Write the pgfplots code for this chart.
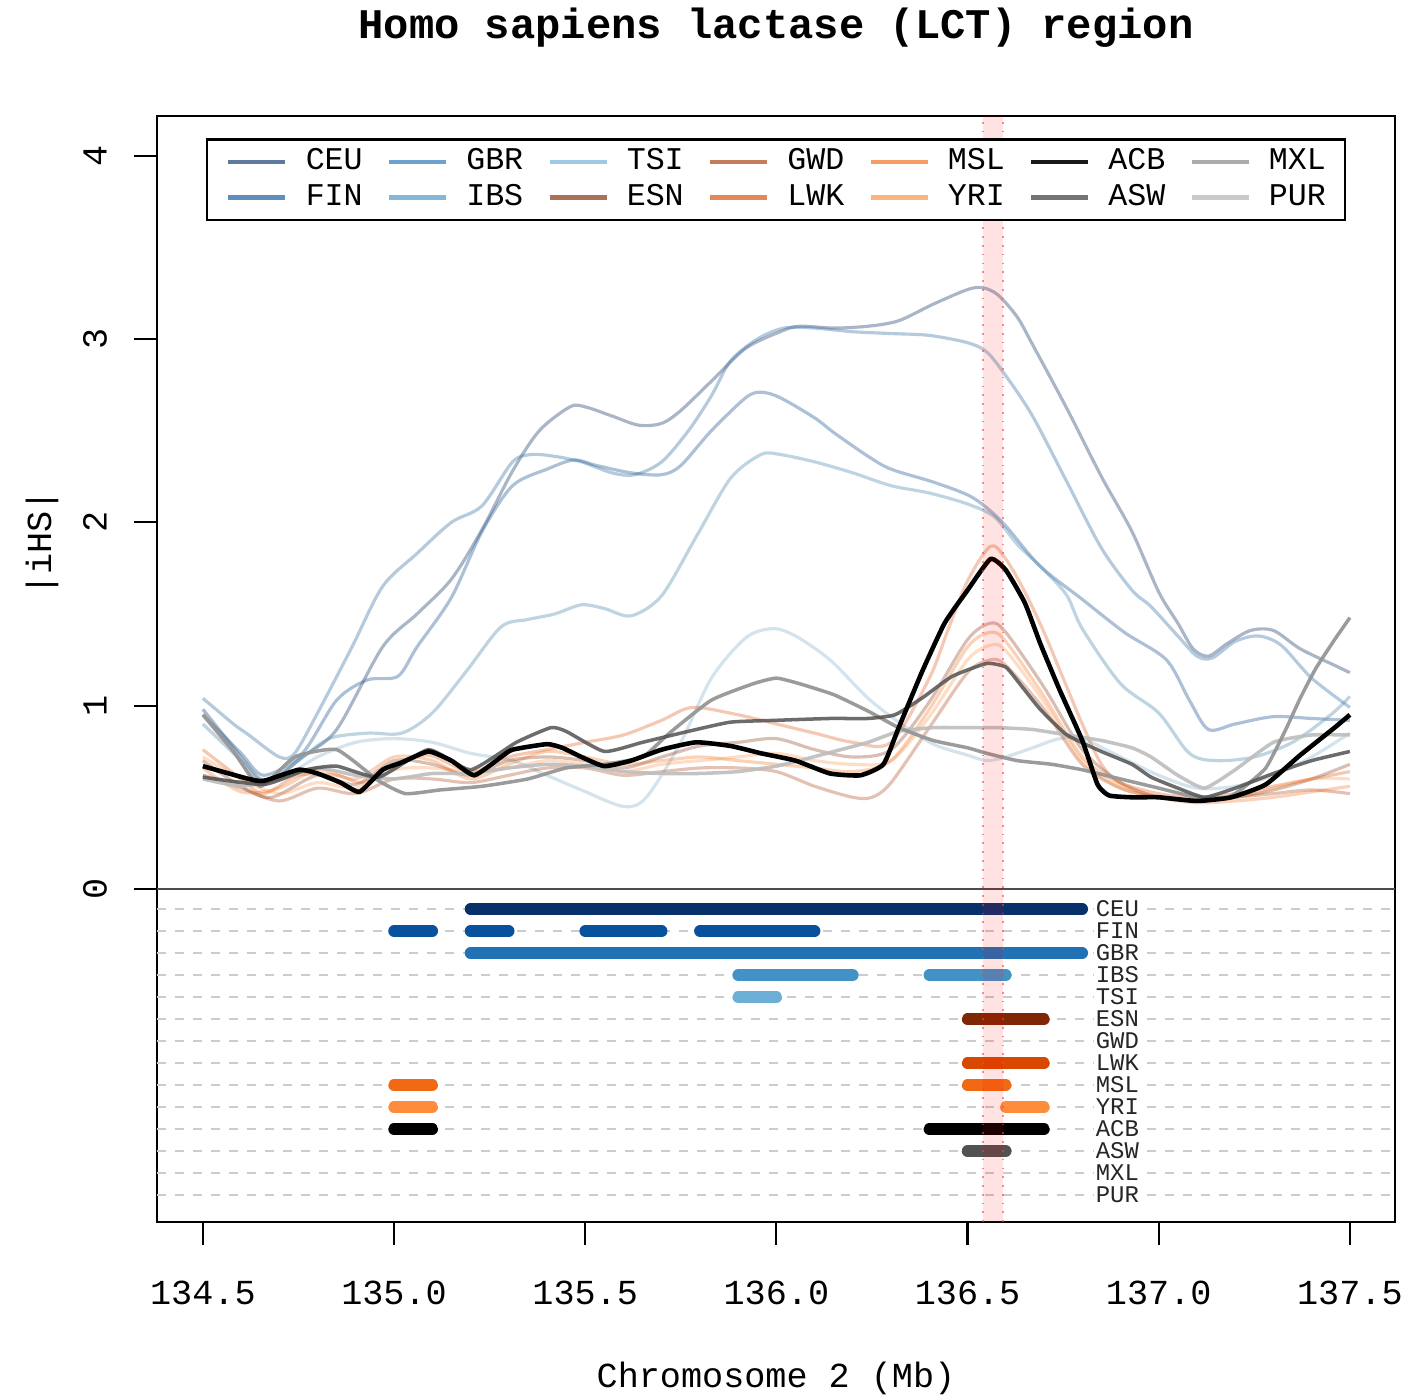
\documentclass[border=0pt]{standalone}
\usepackage{fontspec}
\setmainfont{Liberation Mono}
\usepackage{pgfplots}
\pgfplotsset{compat=1.18}
\begin{document}
\begin{tikzpicture}
\definecolor{CEUc}{HTML}{08306B}
\definecolor{FINc}{HTML}{08519C}
\definecolor{GBRc}{HTML}{2171B5}
\definecolor{IBSc}{HTML}{4292C6}
\definecolor{TSIc}{HTML}{6BAED6}
\definecolor{ESNc}{HTML}{7F2704}
\definecolor{GWDc}{HTML}{A63603}
\definecolor{LWKc}{HTML}{D94801}
\definecolor{MSLc}{HTML}{F16913}
\definecolor{YRIc}{HTML}{FD8D3C}
\definecolor{ACBc}{HTML}{000000}
\definecolor{ASWc}{HTML}{525252}
\definecolor{MXLc}{HTML}{969696}
\definecolor{PURc}{HTML}{BDBDBD}
\begin{axis}[
  name=ax, scale only axis, width=12.38cm, height=11.06cm,
  xmin=134.38, xmax=137.618, ymin=-1.817, ymax=4.217,
  axis line style={black, line width=0.6pt},
  tick style={black, line width=0.6pt},
  major tick length=2.3mm,
  tick align=outside, tick pos=left,
  xtick={134.5,135,135.5,136,136.5,137,137.5},
  xticklabels={134.5,135.0,135.5,136.0,136.5,137.0,137.5},
  ytick={0,1,2,3,4}, yticklabels={0,1,2,3,4},
  ticklabel style={font=\fontsize{10}{12}\selectfont},
  xticklabel style={anchor=center}, xticklabel shift=4.8mm,
  yticklabel style={rotate=90, anchor=center}, yticklabel shift=3.9mm,
  xlabel={Chromosome 2 (Mb)},
  xlabel style={at={(0.5,-0.141)}, anchor=center, font=\fontsize{10}{12}\selectfont},
  ylabel={|iHS|},
  ylabel style={at={(-0.0929,0.614)}, anchor=center, font=\fontsize{10}{12}\selectfont},
  unbounded coords=jump,
  legend columns=7,
  legend cell align=left,
  legend image code/.code={\draw[#1] (0mm,0mm) -- (5.7mm,0mm);},
  legend style={at={(0.5,0.980)}, anchor=north, draw=black, line width=0.7pt, fill=white,
    inner xsep=1.9mm, inner ysep=0.5mm, font=\fontsize{9}{10}\selectfont,
    nodes={inner xsep=0pt, inner ysep=0.45mm},
    /tikz/every odd column/.style={column sep=1.8mm},
    /tikz/every even column/.style={column sep=2.4mm}},
]
% legend (filled column-wise like the reference)
\addlegendimage{CEUc, opacity=0.65, line width=1.3pt}\addlegendentry{CEU}
\addlegendimage{GBRc, opacity=0.65, line width=1.3pt}\addlegendentry{GBR}
\addlegendimage{TSIc, opacity=0.65, line width=1.3pt}\addlegendentry{TSI}
\addlegendimage{GWDc, opacity=0.65, line width=1.3pt}\addlegendentry{GWD}
\addlegendimage{MSLc, opacity=0.65, line width=1.3pt}\addlegendentry{MSL}
\addlegendimage{ACBc, opacity=0.9, line width=1.3pt}\addlegendentry{ACB}
\addlegendimage{MXLc, opacity=0.8, line width=1.3pt}\addlegendentry{MXL}
\addlegendimage{FINc, opacity=0.65, line width=1.3pt}\addlegendentry{FIN}
\addlegendimage{IBSc, opacity=0.65, line width=1.3pt}\addlegendentry{IBS}
\addlegendimage{ESNc, opacity=0.65, line width=1.3pt}\addlegendentry{ESN}
\addlegendimage{LWKc, opacity=0.65, line width=1.3pt}\addlegendentry{LWK}
\addlegendimage{YRIc, opacity=0.65, line width=1.3pt}\addlegendentry{YRI}
\addlegendimage{ASWc, opacity=0.8, line width=1.3pt}\addlegendentry{ASW}
\addlegendimage{PURc, opacity=0.8, line width=1.3pt}\addlegendentry{PUR}

% --- lower panel: dashed guide rows
\draw[gray!40, line width=0.5pt, dash pattern=on 0.9mm off 0.9mm]
  (axis cs:134.38,-0.11) -- (axis cs:137.618,-0.11)
  (axis cs:134.38,-0.23) -- (axis cs:137.618,-0.23)
  (axis cs:134.38,-0.35) -- (axis cs:137.618,-0.35)
  (axis cs:134.38,-0.47) -- (axis cs:137.618,-0.47)
  (axis cs:134.38,-0.59) -- (axis cs:137.618,-0.59)
  (axis cs:134.38,-0.71) -- (axis cs:137.618,-0.71)
  (axis cs:134.38,-0.83) -- (axis cs:137.618,-0.83)
  (axis cs:134.38,-0.95) -- (axis cs:137.618,-0.95)
  (axis cs:134.38,-1.07) -- (axis cs:137.618,-1.07)
  (axis cs:134.38,-1.19) -- (axis cs:137.618,-1.19)
  (axis cs:134.38,-1.31) -- (axis cs:137.618,-1.31)
  (axis cs:134.38,-1.43) -- (axis cs:137.618,-1.43)
  (axis cs:134.38,-1.55) -- (axis cs:137.618,-1.55)
  (axis cs:134.38,-1.67) -- (axis cs:137.618,-1.67);

% --- significant windows
\pgfplotsset{seg/.style={forget plot, line width=3.3pt, line cap=round}}
\addplot[seg, CEUc] coordinates {(135.2,-0.11) (136.8,-0.11)};
\addplot[seg, FINc] coordinates {(135.0,-0.23) (135.1,-0.23) (135.15,nan) (135.2,-0.23) (135.3,-0.23) (135.4,nan) (135.5,-0.23) (135.7,-0.23) (135.75,nan) (135.8,-0.23) (136.1,-0.23)};
\addplot[seg, GBRc] coordinates {(135.2,-0.35) (136.8,-0.35)};
\addplot[seg, IBSc] coordinates {(135.9,-0.47) (136.2,-0.47) (136.3,nan) (136.4,-0.47) (136.6,-0.47)};
\addplot[seg, TSIc] coordinates {(135.9,-0.59) (136.0,-0.59)};
\addplot[seg, ESNc] coordinates {(136.5,-0.71) (136.7,-0.71)};
\addplot[seg, LWKc] coordinates {(136.5,-0.95) (136.7,-0.95)};
\addplot[seg, MSLc] coordinates {(135.0,-1.07) (135.1,-1.07) (135.5,nan) (136.5,-1.07) (136.6,-1.07)};
\addplot[seg, YRIc] coordinates {(135.0,-1.19) (135.1,-1.19) (135.5,nan) (136.6,-1.19) (136.7,-1.19)};
\addplot[seg, ACBc] coordinates {(135.0,-1.31) (135.1,-1.31) (135.5,nan) (136.4,-1.31) (136.7,-1.31)};
\addplot[seg, ASWc] coordinates {(136.5,-1.43) (136.6,-1.43)};

\begin{scope}[every node/.style={anchor=west, fill=white, inner sep=0.4pt, text=black!85, font=\fontsize{6.8}{7}\selectfont}]
\node at (axis cs:136.83,-0.11) {CEU};
\node at (axis cs:136.83,-0.23) {FIN};
\node at (axis cs:136.83,-0.35) {GBR};
\node at (axis cs:136.83,-0.47) {IBS};
\node at (axis cs:136.83,-0.59) {TSI};
\node at (axis cs:136.83,-0.71) {ESN};
\node at (axis cs:136.83,-0.83) {GWD};
\node at (axis cs:136.83,-0.95) {LWK};
\node at (axis cs:136.83,-1.07) {MSL};
\node at (axis cs:136.83,-1.19) {YRI};
\node at (axis cs:136.83,-1.31) {ACB};
\node at (axis cs:136.83,-1.43) {ASW};
\node at (axis cs:136.83,-1.55) {MXL};
\node at (axis cs:136.83,-1.67) {PUR};
\end{scope}

% --- |iHS| curves
\pgfplotsset{eur/.style={forget plot, smooth, line width=0.9pt, opacity=0.38},
             afr/.style={forget plot, smooth, line width=0.9pt, opacity=0.3}}
\addplot[eur, CEUc!80!gray] coordinates {(134.5,0.98)(134.6,0.72)(134.65,0.6)(134.7,0.62)(134.76,0.72)(134.85,0.87)(134.97,1.32)(135.06,1.5)(135.15,1.69)(135.23,1.96)(135.31,2.28)(135.38,2.5)(135.46,2.63)(135.5,2.63)(135.57,2.58)(135.64,2.53)(135.7,2.54)(135.75,2.61)(135.83,2.77)(135.92,2.95)(136.01,3.04)(136.06,3.07)(136.15,3.06)(136.24,3.07)(136.32,3.10)(136.41,3.19)(136.5,3.27)(136.54,3.28)(136.58,3.24)(136.63,3.12)(136.67,2.97)(136.76,2.62)(136.85,2.25)(136.93,1.95)(137.0,1.62)(137.05,1.45)(137.09,1.31)(137.13,1.27)(137.18,1.34)(137.24,1.41)(137.3,1.41)(137.37,1.31)(137.46,1.22)(137.5,1.18)};
\addplot[eur, GBRc!70!gray] coordinates {(134.5,1.04)(134.58,0.9)(134.62,0.84)(134.7,0.72)(134.74,0.74)(134.8,0.96)(134.89,1.32)(134.97,1.65)(135.06,1.83)(135.15,2.0)(135.23,2.09)(135.31,2.33)(135.36,2.37)(135.42,2.36)(135.49,2.33)(135.57,2.27)(135.63,2.26)(135.7,2.33)(135.77,2.5)(135.83,2.69)(135.88,2.88)(135.95,3.0)(136.02,3.06)(136.1,3.06)(136.2,3.04)(136.3,3.03)(136.4,3.02)(136.5,2.98)(136.55,2.93)(136.6,2.8)(136.67,2.58)(136.76,2.22)(136.85,1.86)(136.93,1.63)(136.98,1.54)(137.05,1.38)(137.1,1.27)(137.14,1.26)(137.2,1.35)(137.26,1.38)(137.32,1.33)(137.4,1.15)(137.5,0.99)};
\addplot[eur, FINc!75!gray] coordinates {(134.5,0.95)(134.6,0.74)(134.66,0.62)(134.76,0.74)(134.85,1.03)(134.93,1.14)(135.01,1.16)(135.06,1.32)(135.15,1.59)(135.23,1.95)(135.31,2.2)(135.4,2.29)(135.47,2.34)(135.53,2.31)(135.62,2.27)(135.7,2.26)(135.75,2.31)(135.83,2.5)(135.92,2.68)(135.96,2.71)(136.01,2.68)(136.1,2.57)(136.15,2.49)(136.24,2.36)(136.3,2.29)(136.41,2.22)(136.5,2.15)(136.55,2.08)(136.6,1.98)(136.69,1.76)(136.8,1.58)(136.91,1.4)(137.02,1.25)(137.08,1.03)(137.13,0.87)(137.2,0.9)(137.3,0.94)(137.4,0.93)(137.5,0.92)};
\addplot[eur, IBSc!70!gray] coordinates {(134.5,0.9)(134.6,0.7)(134.66,0.58)(134.75,0.7)(134.83,0.82)(134.93,0.85)(135.02,0.85)(135.1,0.96)(135.19,1.19)(135.28,1.43)(135.35,1.47)(135.42,1.5)(135.49,1.55)(135.55,1.53)(135.62,1.49)(135.7,1.6)(135.79,1.92)(135.88,2.24)(135.96,2.37)(136.01,2.37)(136.1,2.33)(136.2,2.27)(136.3,2.2)(136.4,2.16)(136.5,2.1)(136.57,2.03)(136.63,1.88)(136.7,1.74)(136.76,1.6)(136.8,1.42)(136.9,1.12)(137.0,0.96)(137.08,0.74)(137.15,0.7)(137.25,0.72)(137.35,0.8)(137.45,0.95)(137.5,1.05)};
\addplot[eur, TSIc!75!gray, opacity=0.3] coordinates {(134.5,0.62)(134.6,0.58)(134.7,0.6)(134.8,0.72)(134.9,0.8)(135.0,0.82)(135.1,0.8)(135.2,0.74)(135.31,0.7)(135.4,0.62)(135.49,0.54)(135.6,0.45)(135.66,0.5)(135.75,0.8)(135.83,1.15)(135.92,1.37)(135.99,1.42)(136.05,1.38)(136.14,1.25)(136.24,1.04)(136.32,0.91)(136.41,0.79)(136.5,0.73)(136.55,0.7)(136.6,0.72)(136.67,0.77)(136.74,0.82)(136.8,0.82)(136.9,0.72)(137.0,0.62)(137.1,0.55)(137.2,0.56)(137.3,0.62)(137.4,0.72)(137.5,0.85)};
\addplot[afr, ESNc] coordinates {(134.5,0.7)(134.6,0.56)(134.68,0.5)(134.8,0.62)(134.9,0.57)(135.0,0.7)(135.1,0.68)(135.2,0.62)(135.3,0.7)(135.4,0.72)(135.5,0.7)(135.6,0.66)(135.7,0.72)(135.8,0.78)(135.9,0.8)(136.0,0.82)(136.1,0.76)(136.2,0.72)(136.3,0.76)(136.4,1.02)(136.5,1.36)(136.56,1.45)(136.6,1.4)(136.7,1.1)(136.8,0.76)(136.9,0.58)(137.0,0.5)(137.1,0.48)(137.2,0.5)(137.3,0.54)(137.4,0.6)(137.5,0.68)};
\addplot[afr, GWDc] coordinates {(134.5,0.62)(134.6,0.55)(134.7,0.48)(134.8,0.55)(134.9,0.52)(135.0,0.6)(135.1,0.6)(135.2,0.58)(135.3,0.62)(135.4,0.66)(135.5,0.66)(135.6,0.62)(135.7,0.64)(135.8,0.66)(135.9,0.66)(136.0,0.64)(136.1,0.56)(136.2,0.5)(136.25,0.5)(136.3,0.58)(136.4,0.88)(136.5,1.18)(136.56,1.25)(136.6,1.22)(136.7,0.98)(136.8,0.68)(136.9,0.55)(137.0,0.5)(137.1,0.48)(137.2,0.5)(137.3,0.52)(137.4,0.54)(137.5,0.52)};
\addplot[afr, LWKc] coordinates {(134.5,0.76)(134.6,0.6)(134.66,0.52)(134.75,0.62)(134.85,0.62)(134.92,0.58)(135.0,0.68)(135.09,0.73)(135.2,0.64)(135.3,0.72)(135.4,0.76)(135.5,0.8)(135.6,0.84)(135.7,0.92)(135.78,0.99)(135.9,0.95)(136.0,0.9)(136.1,0.85)(136.2,0.8)(136.3,0.8)(136.4,1.15)(136.45,1.42)(136.5,1.68)(136.56,1.87)(136.6,1.8)(136.65,1.62)(136.7,1.4)(136.75,1.15)(136.8,0.9)(136.85,0.68)(136.9,0.58)(137.0,0.52)(137.1,0.5)(137.2,0.52)(137.3,0.56)(137.4,0.6)(137.5,0.64)};
\addplot[afr, MSLc] coordinates {(134.5,0.66)(134.6,0.53)(134.7,0.55)(134.8,0.65)(134.9,0.6)(135.0,0.72)(135.1,0.7)(135.2,0.6)(135.3,0.68)(135.4,0.75)(135.5,0.72)(135.6,0.68)(135.7,0.7)(135.8,0.72)(135.9,0.7)(136.0,0.68)(136.1,0.66)(136.2,0.64)(136.3,0.7)(136.4,0.98)(136.5,1.32)(136.56,1.4)(136.6,1.35)(136.7,1.05)(136.8,0.72)(136.9,0.57)(137.0,0.5)(137.1,0.47)(137.2,0.48)(137.3,0.5)(137.4,0.53)(137.5,0.56)};
\addplot[afr, YRIc] coordinates {(134.5,0.72)(134.6,0.6)(134.7,0.52)(134.8,0.58)(134.9,0.55)(135.0,0.65)(135.1,0.66)(135.2,0.64)(135.3,0.66)(135.4,0.7)(135.5,0.68)(135.6,0.64)(135.7,0.68)(135.8,0.7)(135.9,0.72)(136.0,0.74)(136.1,0.7)(136.2,0.68)(136.3,0.7)(136.4,0.94)(136.5,1.25)(136.56,1.33)(136.6,1.3)(136.7,1.02)(136.8,0.7)(136.9,0.55)(137.0,0.5)(137.1,0.48)(137.2,0.5)(137.3,0.55)(137.4,0.6)(137.5,0.6)};
\addplot[forget plot, smooth, tension=0.3, PURc, line width=1pt, opacity=0.9] coordinates {(134.5,0.6)(134.6,0.56)(134.7,0.6)(134.8,0.66)(134.9,0.62)(135.0,0.6)(135.1,0.63)(135.2,0.63)(135.3,0.66)(135.4,0.68)(135.5,0.67)(135.6,0.64)(135.7,0.63)(135.8,0.63)(135.9,0.64)(136.0,0.67)(136.06,0.7)(136.15,0.75)(136.24,0.8)(136.32,0.86)(136.41,0.88)(136.5,0.88)(136.58,0.88)(136.67,0.87)(136.76,0.84)(136.85,0.81)(136.93,0.77)(136.98,0.72)(137.05,0.62)(137.12,0.55)(137.2,0.65)(137.3,0.8)(137.4,0.84)(137.5,0.84)};
\addplot[forget plot, smooth, tension=0.3, MXLc, line width=1pt, opacity=0.95] coordinates {(134.5,0.95)(134.58,0.75)(134.65,0.56)(134.74,0.72)(134.85,0.76)(134.96,0.59)(135.03,0.52)(135.12,0.54)(135.23,0.56)(135.35,0.6)(135.45,0.66)(135.55,0.68)(135.65,0.72)(135.72,0.85)(135.83,1.03)(135.94,1.12)(136.0,1.15)(136.06,1.12)(136.15,1.06)(136.24,0.97)(136.32,0.88)(136.41,0.81)(136.5,0.77)(136.55,0.74)(136.63,0.7)(136.72,0.68)(136.8,0.65)(136.9,0.6)(137.0,0.55)(137.1,0.5)(137.18,0.5)(137.22,0.55)(137.28,0.66)(137.33,0.86)(137.37,1.04)(137.41,1.2)(137.46,1.36)(137.5,1.48)};
\addplot[forget plot, smooth, tension=0.3, ASWc, line width=1pt, opacity=0.85] coordinates {(134.5,0.61)(134.66,0.57)(134.77,0.65)(134.85,0.67)(134.96,0.61)(135.09,0.76)(135.2,0.65)(135.32,0.8)(135.41,0.88)(135.45,0.86)(135.55,0.75)(135.65,0.8)(135.77,0.86)(135.88,0.91)(136.0,0.92)(136.14,0.93)(136.24,0.93)(136.31,0.95)(136.38,1.04)(136.46,1.16)(136.55,1.23)(136.6,1.21)(136.64,1.11)(136.69,0.98)(136.76,0.84)(136.85,0.75)(136.93,0.68)(136.98,0.61)(137.05,0.55)(137.12,0.5)(137.2,0.55)(137.3,0.63)(137.4,0.7)(137.5,0.75)};
\addplot[forget plot, smooth, tension=0.3, ACBc, line width=1.3pt] coordinates {(134.5,0.67)(134.62,0.6)(134.66,0.59)(134.75,0.65)(134.8,0.63)(134.86,0.58)(134.91,0.53)(134.97,0.65)(135.02,0.69)(135.09,0.75)(135.15,0.7)(135.21,0.62)(135.28,0.72)(135.31,0.76)(135.4,0.79)(135.44,0.77)(135.49,0.72)(135.55,0.67)(135.62,0.7)(135.7,0.76)(135.79,0.8)(135.88,0.78)(135.96,0.74)(136.05,0.7)(136.14,0.63)(136.22,0.62)(136.28,0.68)(136.32,0.88)(136.38,1.18)(136.44,1.45)(136.5,1.63)(136.56,1.8)(136.6,1.74)(136.65,1.56)(136.69,1.34)(136.74,1.09)(136.8,0.81)(136.84,0.57)(136.87,0.51)(136.93,0.5)(137.0,0.5)(137.1,0.48)(137.19,0.5)(137.28,0.57)(137.37,0.73)(137.46,0.88)(137.5,0.95)};

% zero line and highlighted LCT window
\draw[black!70, line width=0.8pt] (axis cs:134.38,0) -- (axis cs:137.618,0);
\fill[red, opacity=0.11] (axis cs:136.54,-1.817) rectangle (axis cs:136.593,4.217);
\draw[red!75, opacity=0.6, dotted, line width=0.5pt] (axis cs:136.54,-1.817) -- (axis cs:136.54,4.217) (axis cs:136.593,-1.817) -- (axis cs:136.593,4.217);
\end{axis}
\node[font=\bfseries\fontsize{12}{14}\selectfont] at ([yshift=0.88cm]ax.north) {Homo sapiens lactase (LCT) region};
\pgfresetboundingbox
\path[use as bounding box] ([shift={(-1.57cm,-1.75cm)}]ax.south west) rectangle ([shift={(0.13cm,1.16cm)}]ax.north east);
\end{tikzpicture}
\end{document}
